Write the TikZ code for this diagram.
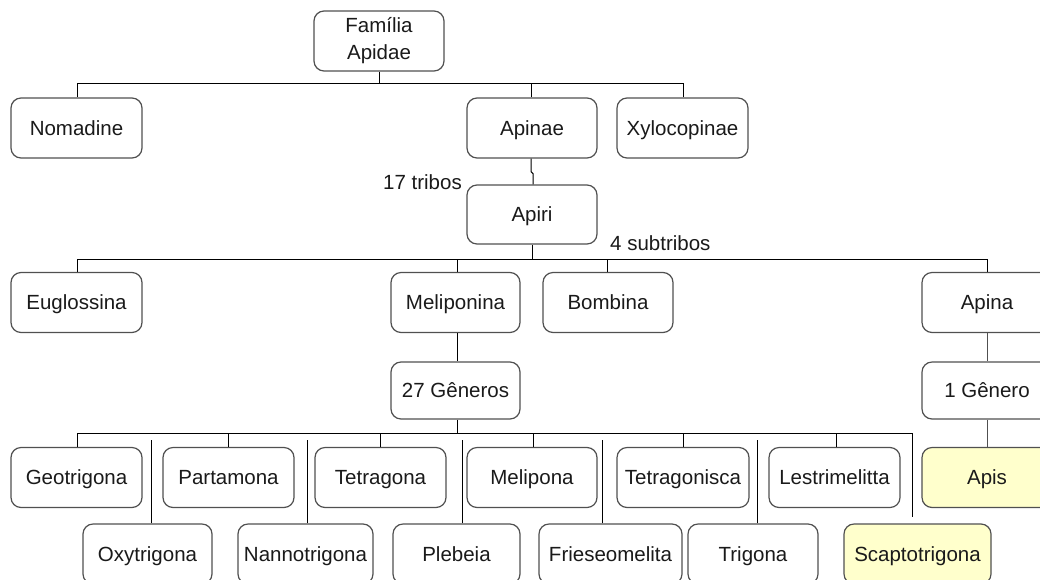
\documentclass[tikz,border=0pt]{standalone}
\usepackage{fontspec}
\setmainfont{Liberation Sans}
\begin{document}
\begin{tikzpicture}[x=1pt,y=-1pt,
  boxbase/.style={draw=boxgray, line width=1.2pt, rounded corners=10pt, fill=white,
    minimum width=130pt, minimum height=60pt, inner sep=0pt, text=txt,
    font=\fontsize{20.5}{27}\selectfont, align=center},
  box/.style={boxbase, text height=14.2pt, text depth=0pt},
  hl/.style={box, fill=hiyel},
  conn/.style={draw=black, line width=1pt},
  lab/.style={inner sep=0pt, text=txt, font=\fontsize{20.5}{24}\selectfont}]
\definecolor{boxgray}{HTML}{505050}
\definecolor{txt}{HTML}{1A1A1A}
\definecolor{hiyel}{HTML}{FFFFCC}
\useasboundingbox[fill=white] (0,0) rectangle (1040,579);

% level 0
\node[boxbase] (fam) at (379,41) {Família\\Apidae};
% level 1
\node[box, minimum width=131pt] (nom) at (76.5,128) {Nomadine};
\node[box] (apinae) at (532,128) {Apinae};
\node[box, minimum width=131pt] (xylo) at (682.5,128) {Xylocopinae};
% level 2
\node[box, minimum height=59pt] (apiri) at (532,214.5) {Apiri};
% level 3
\node[box, minimum width=131pt] (eug) at (76.5,302.5) {Euglossina};
\node[box, minimum width=129pt] (meli) at (455.5,302.5) {Meliponina};
\node[box] (bomb) at (608,302.5) {Bombina};
\node[box] (apina) at (987,302.5) {Apina};
% level 4
\node[box, minimum width=129pt, minimum height=57pt] (g27) at (455.5,390.5) {27 Gêneros};
\node[box, minimum height=57pt] (g1) at (987,390.5) {1 Gênero};
% row 1
\node[box, minimum width=131pt] (geo) at (76.5,477.5) {Geotrigona};
\node[box, minimum width=131pt] (part) at (228.5,477.5) {Partamona};
\node[box, minimum width=131pt] (tetra) at (380.5,477.5) {Tetragona};
\node[box] (melip) at (532,477.5) {Melipona};
\node[box, minimum width=132pt] (tetrag) at (683,477.5) {Tetragonisca};
\node[box, minimum width=131pt] (lest) at (834.5,477.5) {Lestrimelitta};
\node[hl] (apis) at (987,477.5) {Apis};
% row 2
\node[box, minimum width=129pt] (oxy) at (147.5,554) {Oxytrigona};
\node[box, minimum width=135pt] (nanno) at (305.5,554) {Nannotrigona};
\node[box, minimum width=127pt] (pleb) at (456.5,554) {Plebeia};
\node[box, minimum width=143pt] (fries) at (610.5,554) {Frieseomelita};
\node[box] (trig) at (753,554) {Trigona};
\node[hl, minimum width=147pt] (scap) at (917.5,554) {Scaptotrigona};

% labels
\node[lab, anchor=east] (l17) at (462,182) {17 tribos};
\node[lab, anchor=west] (l4) at (610,243) {4 subtribos};

% bus coordinates
\coordinate (b1) at (379,83);
\coordinate (b2) at (532,259);
\coordinate (b3) at (457,433);
\coordinate (b3g) at (0,440);

% level 0 -> 1
\draw[conn] (fam.south) -- (b1);
\draw[conn] ([xshift=0.5pt]nom.north) |- (b1);
\draw[conn] ([xshift=0.5pt]xylo.north) |- (b1);
\draw[conn] ([xshift=-1pt]apinae.north) -- ([xshift=-1pt]apinae.north |- b1);
% Apinae -> Apiri (with the small jog)
\draw[conn] ([xshift=-1pt]apinae.south) -- ([xshift=-1pt,yshift=-13pt]apinae.south)
  -- ([xshift=1pt,yshift=-15pt]apinae.south) -- ([xshift=1pt]apiri.north);
% level 2 -> 3
\draw[conn] (apiri.south) -- (b2);
\draw[conn] ([xshift=0.5pt]eug.north) |- (b2);
\draw[conn] (apina.north) |- (b2);
\draw[conn] ([xshift=1.5pt]meli.north) -- ([xshift=1.5pt]meli.north |- b2);
\draw[conn] ([xshift=-1pt]bomb.north) -- ([xshift=-1pt]bomb.north |- b2);
% level 3 -> 4
\draw[conn] ([xshift=1.5pt]meli.south) -- ([xshift=1.5pt]g27.north);
\draw[draw=boxgray, line width=1pt] (apina.south) -- (g1.north);
\draw[draw=boxgray, line width=1pt] (g1.south) -- (apis.north);
% level 4 -> rows
\draw[conn] ([xshift=1.5pt]g27.south) -- (b3);
\coordinate (scapend) at ([xshift=-5.5pt,yshift=6pt]scap.north);
\draw[conn] ([xshift=0.5pt]geo.north) |- (b3) -| (scapend);
\draw[conn] ([xshift=-0.5pt]part.north) -- ([xshift=-0.5pt]part.north |- b3);
\draw[conn] ([xshift=-0.5pt]tetra.north) -- ([xshift=-0.5pt]tetra.north |- b3);
\draw[conn] ([xshift=1pt]melip.north) -- ([xshift=1pt]melip.north |- b3);
\draw[conn] (tetrag.north) -- (tetrag.north |- b3);
\draw[conn] ([xshift=1.5pt]lest.north) -- ([xshift=1.5pt]lest.north |- b3);
% row 2 verticals (start just below the bus)
\draw[conn] ([xshift=3.5pt]oxy.north) -- ([xshift=3.5pt]oxy.north |- b3g);
\draw[conn] ([xshift=1.5pt]nanno.north) -- ([xshift=1.5pt]nanno.north |- b3g);
\draw[conn] ([xshift=5.5pt]pleb.north) -- ([xshift=5.5pt]pleb.north |- b3g);
\draw[conn] ([xshift=-8.5pt]fries.north) -- ([xshift=-8.5pt]fries.north |- b3g);
\draw[conn] ([xshift=4pt]trig.north) -- ([xshift=4pt]trig.north |- b3g);
\end{tikzpicture}
\end{document}
